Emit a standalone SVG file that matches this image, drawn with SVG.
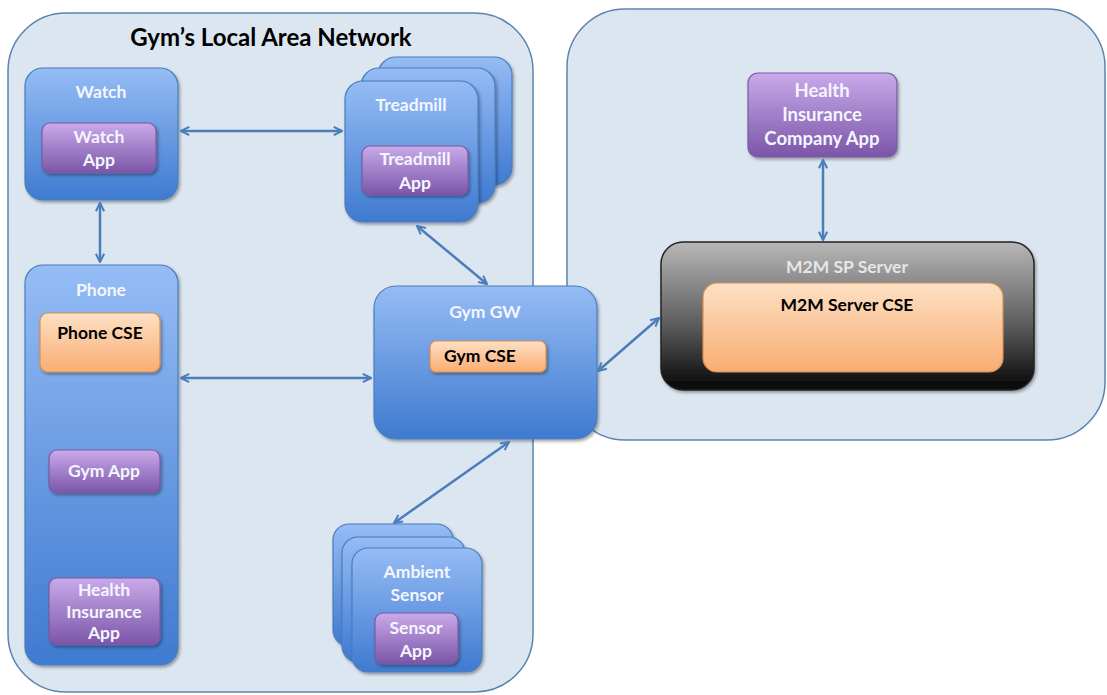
<svg xmlns="http://www.w3.org/2000/svg" width="1107" height="695" viewBox="0 0 1107 695">
<style>
.cont{fill:#dce6f1;stroke:#5b83b0;stroke-width:1.5}
.blue{fill:url(#gBlue);stroke:#4a7ebb;stroke-width:1.2}
.purp{fill:url(#gPurp);stroke:#7a5aa0;stroke-width:1.2}
.orng{fill:url(#gOrng);stroke:#d89050;stroke-width:1.2}
.dark{fill:url(#gDark);stroke:#222;stroke-width:1.5}
.wt{font-family:Lato,"Liberation Sans",sans-serif;font-weight:bold;font-size:17.5px;fill:#f4f6ff;text-anchor:middle}
.bt{font-family:Lato,"Liberation Sans",sans-serif;font-weight:bold;font-size:17.5px;fill:#000;text-anchor:middle}
.big{font-size:18.5px}
.title{font-family:Lato,"Liberation Sans",sans-serif;font-weight:bold;font-size:24px;fill:#000;text-anchor:middle}
.conn{stroke:#4a7ebb;stroke-width:2.5;fill:none;marker-start:url(#ah);marker-end:url(#ah)}
.sh{filter:url(#shadow)}
</style>
<defs>
<linearGradient id="gBlue" x1="0" y1="0" x2="0" y2="1"><stop offset="0" stop-color="#95bcf5"/><stop offset="1" stop-color="#3f7ad0"/></linearGradient>
<linearGradient id="gPurp" x1="0" y1="0" x2="0" y2="1"><stop offset="0" stop-color="#c9aaea"/><stop offset="1" stop-color="#7b55a8"/></linearGradient>
<linearGradient id="gOrng" x1="0" y1="0" x2="0" y2="1"><stop offset="0" stop-color="#fde0c4"/><stop offset="1" stop-color="#f9ad72"/></linearGradient>
<linearGradient id="gDark" x1="0" y1="0" x2="0" y2="1"><stop offset="0" stop-color="#b8b8b8"/><stop offset="0.6" stop-color="#555"/><stop offset="1" stop-color="#050505"/></linearGradient>
<filter id="shadow" x="-10%" y="-10%" width="130%" height="130%"><feDropShadow dx="1.5" dy="2" stdDeviation="1.5" flood-color="#000" flood-opacity="0.35"/></filter>
<marker id="ah" viewBox="0 0 12 12" refX="11" refY="6" markerWidth="4.4" markerHeight="4.4" orient="auto-start-reverse" markerUnits="strokeWidth"><path d="M2,1.5 L11,6 L2,10.5" fill="none" stroke="#4a7ebb" stroke-width="2.2"/></marker>
</defs>

<g id="lan">
<rect class="cont" x="8" y="13" width="525" height="679" rx="58"/>
<text class="title" x="271" y="46">Gym’s Local Area Network</text>
</g>
<g id="sp-domain">
<rect class="cont" x="567" y="9" width="538" height="431" rx="58"/>
</g>

<g id="watch">
<rect class="blue sh" x="25" y="68" width="153" height="132" rx="18"/>
<text class="wt" x="101" y="98">Watch</text>
<rect class="purp sh" x="42" y="123" width="114" height="50" rx="8"/>
<text class="wt" x="99" y="143">Watch</text>
<text class="wt" x="99" y="166">App</text>
</g>

<g id="treadmill">
<rect class="blue sh" x="378" y="57" width="134" height="128" rx="18"/>
<rect class="blue sh" x="361" y="68" width="134" height="135" rx="18"/>
<rect class="blue sh" x="345" y="81" width="133" height="141" rx="18"/>
<text class="wt" x="411" y="111">Treadmill</text>
<rect class="purp sh" x="362" y="146" width="106" height="49" rx="8"/>
<text class="wt" x="415" y="165">Treadmill</text>
<text class="wt" x="415" y="189">App</text>
</g>

<g id="phone">
<rect class="blue sh" x="25" y="265" width="153" height="400" rx="18"/>
<text class="wt" x="101" y="296">Phone</text>
<rect class="orng sh" x="40" y="313" width="120" height="59" rx="8"/>
<text class="bt" x="100" y="339">Phone CSE</text>
<rect class="purp sh" x="49" y="450" width="111" height="43" rx="8"/>
<text class="wt" x="104" y="477">Gym App</text>
<rect class="purp sh" x="49" y="578" width="111" height="67" rx="8"/>
<text class="wt" x="104" y="596">Health</text>
<text class="wt" x="104" y="618">Insurance</text>
<text class="wt" x="104" y="639">App</text>
</g>

<g id="gym-gw">
<rect class="blue sh" x="374" y="286" width="223" height="153" rx="22"/>
<text class="wt" x="485" y="318">Gym GW</text>
<rect class="orng sh" x="430" y="341" width="116" height="31" rx="6"/>
<text class="bt" x="480" y="362">Gym CSE</text>
</g>

<g id="ambient-sensor">
<rect class="blue sh" x="333" y="524" width="120" height="122" rx="16"/>
<rect class="blue sh" x="342" y="537" width="123" height="125" rx="16"/>
<rect class="blue sh" x="352" y="548" width="130" height="124" rx="16"/>
<text class="wt" x="417" y="578">Ambient</text>
<text class="wt" x="417" y="601">Sensor</text>
<rect class="purp sh" x="375" y="613" width="83" height="51" rx="8"/>
<text class="wt" x="416" y="634">Sensor</text>
<text class="wt" x="416" y="657">App</text>
</g>

<g id="hic-app">
<rect class="purp sh" x="748" y="73" width="149" height="84" rx="10"/>
<text class="wt big" x="822" y="97">Health</text>
<text class="wt big" x="822" y="121">Insurance</text>
<text class="wt big" x="822" y="145">Company App</text>
</g>

<g id="m2m-server">
<rect class="dark sh" x="661" y="242" width="373" height="148" rx="22"/>
<text class="wt" x="847" y="273" style="fill:#e6e6e6">M2M SP Server</text>
<rect class="orng" x="703" y="283" width="300" height="89" rx="14"/>
<text class="bt" x="847" y="311">M2M Server CSE</text>
</g>

<g id="connectors">
<line class="conn" x1="181" y1="131" x2="342" y2="131"/>
<line class="conn" x1="100" y1="203" x2="100" y2="262"/>
<line class="conn" x1="181" y1="378" x2="371" y2="378"/>
<line class="conn" x1="417" y1="226" x2="487" y2="284"/>
<line class="conn" x1="509" y1="442" x2="394" y2="523"/>
<line class="conn" x1="598" y1="371" x2="659" y2="318"/>
<line class="conn" x1="823" y1="160" x2="823" y2="240"/>
</g>
</svg>
